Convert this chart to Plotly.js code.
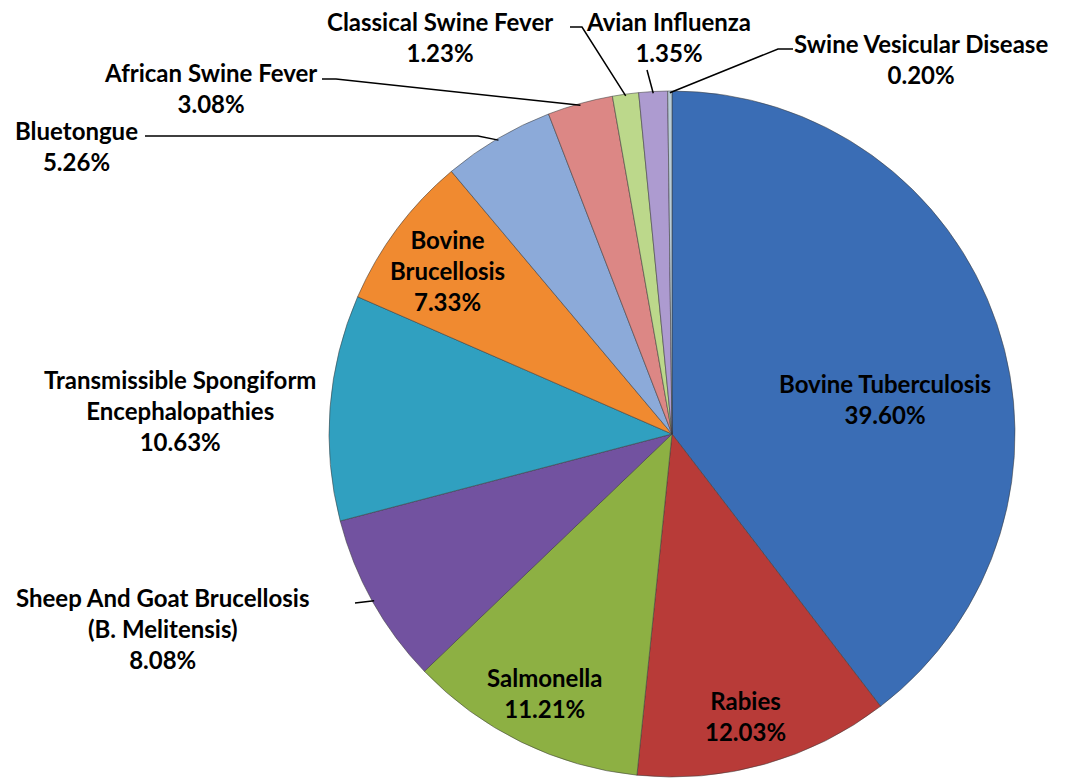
<!DOCTYPE html>
<html>
<head>
<meta charset="utf-8">
<script src="https://cdn.plot.ly/plotly-3.0.1.min.js"></script>
<style>html,body{margin:0;padding:0;background:#fff;overflow:hidden;}#chart{width:1070px;height:780px;}</style>
</head>
<body>
<div id="chart"></div>
<script>
// ---- data ----
const categories = [
  "Bovine Tuberculosis", "Rabies", "Salmonella",
  "Sheep And Goat Brucellosis (B. Melitensis)",
  "Transmissible Spongiform Encephalopathies",
  "Bovine Brucellosis", "Bluetongue", "African Swine Fever",
  "Classical Swine Fever", "Avian Influenza", "Swine Vesicular Disease"
];
const labelText = [
  "Bovine Tuberculosis", "Rabies", "Salmonella",
  "Sheep And Goat Brucellosis<br>(B. Melitensis)",
  "Transmissible Spongiform<br>Encephalopathies",
  "Bovine<br>Brucellosis", "Bluetongue", "African Swine Fever",
  "Classical Swine Fever", "Avian Influenza", "Swine Vesicular Disease"
];
const shares = [39.60, 12.03, 11.21, 8.08, 10.63, 7.33, 5.26, 3.08, 1.23, 1.35, 0.20];

// ---- styling / layout ----
const colors = ["#3A6DB5", "#B83B38", "#8DB043", "#7252A0", "#30A0C0", "#F08A30",
                "#8CAAD9", "#DC8785", "#BCD88B", "#AD9BD0", "#B8CCD8"];
const W = 1070, H = 780;
const CX = 672, CY = 434, R = 343;            // pie centre / radius in pixels
// label block centres (pixels) and leader-line start points
const labelPos = [[885,399],[745,716],[545,693],[162,628],[180,410],[447,270],
                  [76,146],[210,88],[440,37],[668,37],[921,59]];
const leaderStart = [null,null,null,[[355,603]],null,null,
                     [[145,136],[478,136]],[[322,79],[336,79]],[[570,27],[582,27]],
                     [[647,70]],[[793,49],[778,49]]];

const px = (x) => x / W, py = (y) => 1 - y / H;

const total = shares.reduce((a,b)=>a+b,0);
let cum = 0;
const annotations = [], shapes = [];
shares.forEach((v,i) => {
  const mid = (cum + v/2) / total * 2*Math.PI;  // clockwise from 12 o'clock
  cum += v;
  const ex = CX + R*0.995*Math.sin(mid), ey = CY - R*0.995*Math.cos(mid);
  annotations.push({
    xref:'paper', yref:'paper', x:px(labelPos[i][0]), y:py(labelPos[i][1]),
    xanchor:'center', yanchor:'middle', showarrow:false, align:'center',
    text: labelText[i] + '<br>' + v.toFixed(2) + '%',
    font:{family:'Lato, "Open Sans", sans-serif', size:24, color:'#000', weight:'bold'}
  });
  if (leaderStart[i]) {
    const pts = leaderStart[i].concat([[ex,ey]]);
    const path = pts.map((p,k)=>(k?'L':'M')+px(p[0])+','+py(p[1])).join(' ');
    shapes.push({type:'path', xref:'paper', yref:'paper', path:path,
                 line:{color:'#000', width:1.5}});
  }
});

const trace = {
  type:'pie', labels:categories, values:shares, sort:false,
  direction:'clockwise', rotation:0, textinfo:'none', hoverinfo:'label+percent',
  marker:{colors:colors, line:{color:'rgba(60,60,60,0.55)', width:1}},
  domain:{x:[(CX-R)/W,(CX+R)/W], y:[1-(CY+R)/H, 1-(CY-R)/H]}
};

Plotly.newPlot('chart', [trace], {
  width:W, height:H, margin:{l:0,r:0,t:0,b:0}, showlegend:false,
  paper_bgcolor:'#fff', annotations:annotations, shapes:shapes
}, {staticPlot:true});
</script>
</body>
</html>
